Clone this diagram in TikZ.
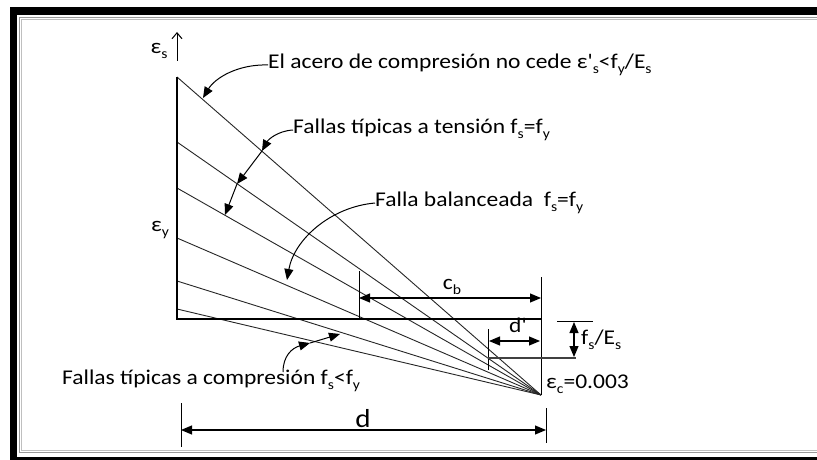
\documentclass[tikz,border=0pt]{standalone}
\usepackage{fontspec}
\setmainfont{Carlito}[Ligatures=TeXOff]
\usetikzlibrary{arrows.meta}
\newcommand\sbx[1]{\raisebox{-0.45ex}{\fontsize{14}{14}\selectfont #1}}
\newcommand\wtxt[1]{\scalebox{1.12}[1]{#1}}
\begin{document}
\begin{tikzpicture}[x=1pt,y=-1pt,
  diag/.style={line width=0.9pt, black!85},
  dimln/.style={line width=1.1pt},
  tipend/.style={-{Triangle[length=11pt,width=9pt]}},
  twotips/.style={{Triangle[length=11pt,width=9pt]}-{Triangle[length=11pt,width=9pt]}},
  lbl/.style={inner sep=0pt, font=\fontsize{21}{24}\selectfont},
  conn/.style={line width=1pt}]
\useasboundingbox (0,0) rectangle (817,460);
\clip (0,0) rectangle (817,460);
\fill[white] (0,0) rectangle (817,460);
% frame
\fill[black] (10,7) rectangle (817,15);
\fill[black] (10,7) rectangle (17,460);
\fill[black] (10,457) rectangle (817,460);
\draw[gray!80, line width=0.8pt] (830,17.5) -| (19.5,452.5) -- (830,452.5);
\draw[gray!50, line width=0.8pt] (830,19.5) -| (21.5,450.5) -- (830,450.5);

% key points
\coordinate (F) at (541,395);
\coordinate (A1) at (177,77);
\coordinate (A2) at (177,142);
\coordinate (A3) at (177,188);
\coordinate (A4) at (177,238);
\coordinate (A5) at (177,281);
\coordinate (A6) at (177,309);
\coordinate (Abot) at (177,320);
\coordinate (Bend) at (541,319);

% strain lines
\foreach \p in {A1,A2,A3,A4,A5,A6} \draw[diag] (\p) -- (F);
% axis
\draw[line width=1.4pt] (A1) -- (Abot);
\draw[line width=2.6pt] (177,319) -- (Bend);
\draw[line width=1pt] (541,277) -- (F);
% epsilon_s axis arrow
\coordinate (ax0) at (177,61);
\coordinate (ax1) at (177,32);
\draw[line width=1pt, -{Straight Barb[length=6pt,width=10pt]}] (ax0) -- (ax1);
\node[lbl] (es) at (159,51) {\wtxt{ε\sbx{s}}};
\node[lbl] (ey) at (160,230) {\wtxt{ε\sbx{y}}};

% c_b
\coordinate (cbt1) at (359,271);
\coordinate (cbt2) at (359,319);
\draw[line width=1pt] (cbt1) -- (cbt2);
\coordinate (cbL) at (359,298);
\coordinate (cbR) at (541,298);
\draw[dimln, twotips] (cbL) -- (cbR);
\node[lbl] (cb) at (452,287) {\wtxt{c\sbx{b}}};

% d'
\coordinate (dpt1) at (488,329);
\coordinate (dpt2) at (488,370);
\draw[line width=1pt] (dpt1) -- (dpt2);
\coordinate (dpL) at (489,341);
\coordinate (dpR) at (540,341);
\draw[dimln, twotips] (dpL) -- (dpR);
\node[lbl] (dp) at (518,325) {\wtxt{d'}};

% fs/Es
\coordinate (fsh1) at (488,358);
\coordinate (fsh2) at (576,358);
\draw[line width=1.8pt, black!75] (fsh1) -- (fsh2);
\coordinate (fst1) at (557,321);
\coordinate (fst2) at (593,321);
\draw[line width=1pt] (fst1) -- (fst2);
\coordinate (fsT) at (574,322);
\coordinate (fsB) at (574,357);
\draw[dimln, twotips] (fsT) -- (fsB);
\node[lbl, anchor=west] (fsE) at (581,340) {\wtxt{f\sbx{s}/E\sbx{s}}};

% eps_c
\node[lbl, anchor=west] (ec) at (546,384) {\wtxt{ε\sbx{c}=0.003}};

% d
\coordinate (dt1) at (181,403);
\coordinate (dt2) at (181,447);
\coordinate (dt3) at (546,408);
\coordinate (dt4) at (546,443);
\draw[line width=1pt] (dt1) -- (dt2);
\draw[line width=1pt] (dt3) -- (dt4);
\coordinate (dL) at (181,430);
\coordinate (dR) at (546,430);
\draw[dimln, twotips] (dL) -- (dR);
\node[inner sep=0pt, font=\fontsize{26}{30}\selectfont] (dlab) at (363,419) {\wtxt{d}};

% annotation texts
\node[lbl, anchor=west] (t1) at (268,65) {\wtxt{El acero de compresión no cede ε'\sbx{s}<f\sbx{y}/E\sbx{s}}};
\node[lbl, anchor=west] (t2) at (293,130) {\wtxt{Fallas típicas a tensión f\sbx{s}=f\sbx{y}}};
\node[lbl, anchor=west] (t3) at (375,203) {\wtxt{Falla balanceada\ \ f\sbx{s}=f\sbx{y}}};
\node[lbl, anchor=west] (t4) at (62,381) {\wtxt{Fallas típicas a compresión f\sbx{s}<f\sbx{y}}};

% annotation connectors
\coordinate (p1) at (203,98);
\draw[conn, tipend] (t1.west) .. controls (238,64) and (215,78) .. (p1);

\coordinate (q1) at (262,151);
\coordinate (q2) at (237,184);
\coordinate (q3) at (225,215);
\draw[conn, tipend] (t2.west) .. controls (277,131) and (268,140) .. (q1);
\draw[conn, tipend] (q1) -- (q2);
\draw[conn, tipend] (q2) -- (q3);

\coordinate (r1) at (287,280);
\draw[conn, tipend] (t3.west) .. controls (330,207) and (294,240) .. (r1);

\coordinate (s0) at (283,372);
\coordinate (s1) at (310,343);
\coordinate (s2) at (340,334);
\draw[conn, tipend] (s0) .. controls (283,356) and (292,348) .. (s1);
\draw[conn, tipend] (s1) -- (s2);
\end{tikzpicture}
\end{document}
